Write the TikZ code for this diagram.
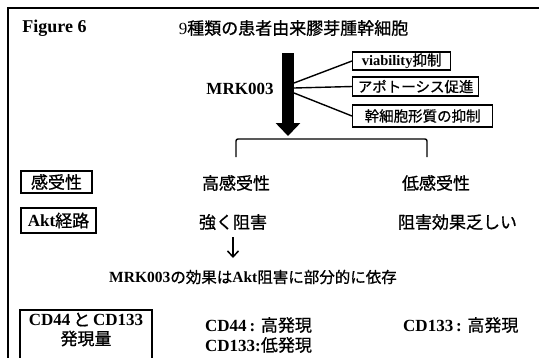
\documentclass[tikz,border=0pt]{standalone}
\usepackage{fontspec}
\setmainfont{Liberation Serif}
\newfontfamily\jp{Noto Sans CJK JP}[FakeBold=0.8]
\newcommand\tb[1]{{\bfseries #1}}
\usetikzlibrary{arrows.meta}
\begin{document}
\begin{tikzpicture}[x=1pt,y=-1pt,
  big/.style={inner sep=0pt, font=\fontsize{17}{20}\selectfont},
  mid/.style={inner sep=0pt, font=\fontsize{15.5}{19}\selectfont},
  boxs/.style={draw, line width=1.3pt, inner sep=0pt, font=\fontsize{14.5}{17}\selectfont},
  boxb/.style={draw, line width=1.3pt, inner sep=0pt, font=\fontsize{17}{20}\selectfont},
  conn/.style={line width=1.4pt},
  frame/.style={line width=2.2pt}]
\useasboundingbox (0,0) rectangle (539,357);
% frame (cropped)
\coordinate (fr1) at (539,8);
\coordinate (fr2) at (8,8);
\coordinate (fr3) at (8,360);
\draw[frame] (fr1) -- (fr2) -- (fr3);
% header
\node[big, font=\fontsize{18}{20}\selectfont] (fig) at (54.5,28) {\tb{Figure 6}};
\node[big] (title) at (293.5,28) {9\jp 種類の患者由来膠芽腫幹細胞};
% big arrow
\coordinate (atop) at (288,53);
\coordinate (atip) at (288,136);
\draw[line width=12pt, -{Triangle[width=24pt,length=13pt]}] (atop) -- (atip);
\node[big] (mrk) at (240,89) {\tb{MRK003}};
% effect boxes
\node[boxs, minimum width=98, minimum height=18, anchor=west] (b1) at (352,61) {\tb{viability}\jp 抑制};
\node[boxs, minimum width=126, minimum height=19, anchor=west] (b2) at (352,86.5) {\jp アポトーシス促進};
\node[boxs, minimum width=140, minimum height=22, anchor=west] (b3) at (352,116) {\jp 幹細胞形質の抑制};
\coordinate (s1) at (294,83);
\coordinate (s2) at (294,88);
\coordinate (s3) at (294,93);
\draw[conn] (s1) -- (b1.west);
\draw[conn] (s2) -- (b2.west);
\draw[conn] (s3) -- (b3.west);
% bracket
\coordinate (brl) at (236,157);
\coordinate (brr) at (427,157);
\draw[conn, rounded corners=2pt] (brl) -- (236,139) -- (427,139) -- (brr);
% row 1
\node[boxb, minimum width=71, minimum height=22] (r1) at (56.5,182) {\jp 感受性};
\node[big] (hi) at (236,183) {\jp 高感受性};
\node[big] (lo) at (436,183) {\jp 低感受性};
% row 2
\node[boxb, minimum width=75, minimum height=25] (r2) at (58.5,220.5) {\tb{Akt}\jp 経路};
\node[big] (strong) at (233,222) {\jp 強く阻害};
\node[big] (weak) at (457.5,222) {\jp 阻害効果乏しい};
% small arrow
\coordinate (sa1) at (233,237);
\coordinate (sa2) at (233,258);
\draw[line width=1.5pt, -{Straight Barb[length=6pt,width=11pt]}] (sa1) -- (sa2);
\node[mid] (concl) at (253,277) {\tb{MRK003}\jp の効果は\rmfamily\tb{Akt}\jp 阻害に部分的に依存};
% row 3
\node[big, align=center, minimum width=132, anchor=north, inner sep=0pt] (r3) at (86,312.5) {\tb{CD44}\,{\jp と}\,\tb{CD133}\\[-1pt]{\jp 発現量}};
\coordinate (r3a) at (20,360);
\coordinate (r3b) at (152,360);
\draw[line width=1.3pt] (r3a) -- (20,310) -- (152,310) -- (r3b);
\node[big, anchor=west] (cd44) at (205,325) {\tb{CD44}\,\tb{:} \jp 高発現};
\node[big, anchor=west] (cd133) at (205,345) {\tb{CD133}\tb{:}\jp 低発現};
\node[big, anchor=west] (cd133b) at (403,325) {\tb{CD133}\,\tb{:} \jp 高発現};
\end{tikzpicture}
\end{document}
